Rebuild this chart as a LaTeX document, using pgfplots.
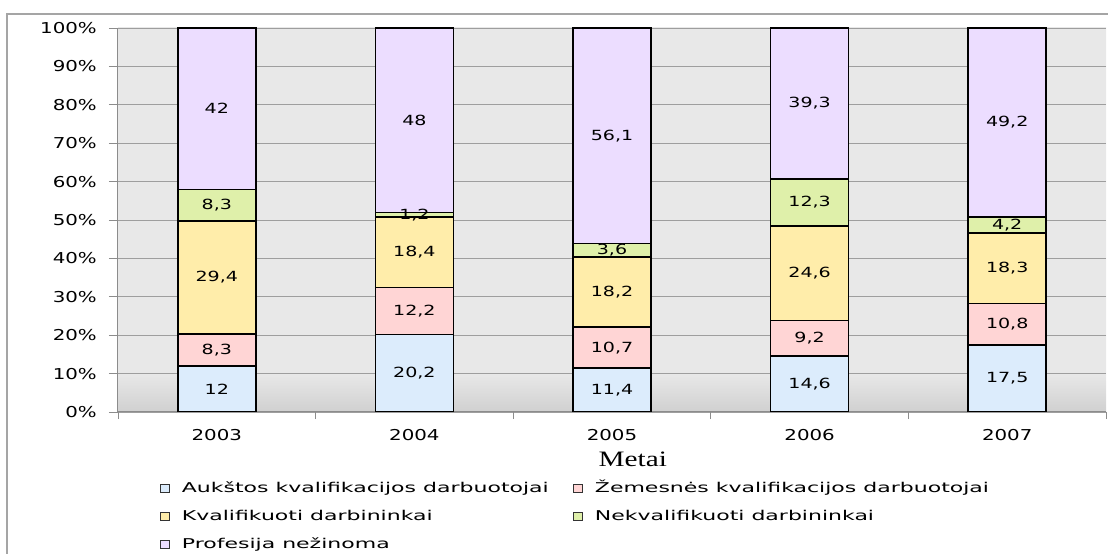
\documentclass[border=0pt]{standalone}
\usepackage{pgfplots}
\usepackage{pgfplotstable}
\pgfplotsset{compat=1.18}
\usepackage{fontspec}
\setmainfont{DejaVu Sans}
\newfontfamily\seriffont{Liberation Serif}
\usepackage{graphicx}

\definecolor{cA}{RGB}{220,236,252}
\definecolor{cB}{RGB}{255,213,213}
\definecolor{cC}{RGB}{255,237,170}
\definecolor{cD}{RGB}{223,240,170}
\definecolor{cE}{RGB}{236,221,255}
\definecolor{bglight}{RGB}{232,232,232}
\definecolor{bgdark}{RGB}{208,208,208}
\definecolor{gridgray}{RGB}{158,158,158}
\definecolor{axisgray}{RGB}{140,140,140}
\definecolor{framegray}{RGB}{165,165,165}

\pgfdeclareverticalshading{plotbg}{100bp}{color(0bp)=(bgdark); color(25bp)=(bgdark); color(30bp)=(bglight); color(100bp)=(bglight)}

\newcommand\sx[2]{\scalebox{#1}[1]{#2}}

\pgfplotstableread{
x A B C D E
0 12 8.3 29.4 8.3 42
1 20.2 12.2 18.4 1.2 48
2 11.4 10.7 18.2 3.6 56.1
3 14.6 9.2 24.6 12.3 39.3
4 17.5 10.8 18.3 4.2 49.2
}\data

\pgfplotsset{
  geom/.style={at={(118pt,142pt)}, anchor=south west,
    scale only axis, width=988pt, height=384pt,
    xmin=-0.5, xmax=4.5, ymin=0, ymax=100,
    /pgf/number format/assume math mode=true},
  lbl/.style={draw=none, mark=none, point meta=explicit,
    nodes near coords={\sx{1.36}{\pgfmathprintnumber[use comma]{\pgfplotspointmeta}}},
    every node near coord/.append style={anchor=center, font=\fontsize{14}{16}\selectfont, inner sep=0pt, text=black}},
  boxlegend/.style={legend image code/.code={\draw[##1, draw=black!80, line width=1.2pt] (0pt,0pt) rectangle (8.5pt,8.5pt);}},
}

\begin{document}
\begin{tikzpicture}
\path[use as bounding box] (0,0) rectangle (1108pt,554pt);
\begin{axis}[
  geom,
  ybar stacked, bar width=78pt,
  axis background/.style={shading=plotbg},
  axis x line*=bottom, axis y line*=left,
  axis line style={-, draw=axisgray, line width=1pt},
  xtick={0,1,2,3,4},
  xticklabels={\sx{1.32}{2003},\sx{1.32}{2004},\sx{1.32}{2005},\sx{1.32}{2006},\sx{1.32}{2007}},
  major x tick style={draw=none},
  minor xtick={-0.5,0.5,1.5,2.5,3.5,4.5},
  ytick={0,10,...,100},
  yticklabel={\sx{1.32}{\pgfmathprintnumber{\tick}\%}},
  ymajorgrids,
  grid style={draw=gridgray, line width=0.9pt},
  tick align=outside, major tick length=9pt, minor tick length=7pt,
  tick style={draw=axisgray, line width=0.9pt},
  ticklabel style={font=\fontsize{15}{18}\selectfont, inner sep=0pt},
  yticklabel style={anchor=east, xshift=-12pt},
  xticklabel style={anchor=north, yshift=-8pt},
  xlabel={\sx{1.33}{Metai}},
  xlabel style={font=\seriffont\fontsize{22}{24}\selectfont, at={(axis description cs:0.521,0)}, anchor=base, yshift=-55pt, inner sep=0pt},
  every axis plot/.append style={draw=black, line width=1.5pt},
  legend columns=2,
  legend cell align=left,
  legend style={at={(0.0425,-0.1836)}, anchor=north west, draw=none, fill=none, inner sep=0pt,
    font=\fontsize{13.5}{15}\selectfont,
    nodes={inner sep=0pt, text height=10pt, text depth=3pt, anchor=base west},
    row sep=15pt,
    /tikz/every odd column/.append style={column sep=12pt},
    /tikz/every even column/.append style={column sep=24.5pt}},
]
\addplot[fill=cA, boxlegend] table[x=x,y=A]{\data};
\addlegendentry{\sx{1.63}{Aukštos kvalifikacijos darbuotojai}}
\addplot[fill=cB, boxlegend] table[x=x,y=B]{\data};
\addlegendentry{\sx{1.63}{Žemesnės kvalifikacijos darbuotojai}}
\addplot[fill=cC, boxlegend] table[x=x,y=C]{\data};
\addlegendentry{\sx{1.63}{Kvalifikuoti darbininkai}}
\addplot[fill=cD, boxlegend] table[x=x,y=D]{\data};
\addlegendentry{\sx{1.63}{Nekvalifikuoti darbininkai}}
\addplot[fill=cE, boxlegend] table[x=x,y=E]{\data};
\addlegendentry{\sx{1.63}{Profesija nežinoma}}
\end{axis}
\begin{axis}[geom, hide axis]
\addplot[lbl] table[x=x, y expr={\thisrow{A}/2}, meta=A]{\data};
\addplot[lbl] table[x=x, y expr={\thisrow{A}+\thisrow{B}/2}, meta=B]{\data};
\addplot[lbl] table[x=x, y expr={\thisrow{A}+\thisrow{B}+\thisrow{C}/2}, meta=C]{\data};
\addplot[lbl] table[x=x, y expr={\thisrow{A}+\thisrow{B}+\thisrow{C}+\thisrow{D}/2}, meta=D]{\data};
\addplot[lbl] table[x=x, y expr={\thisrow{A}+\thisrow{B}+\thisrow{C}+\thisrow{D}+\thisrow{E}/2}, meta=E]{\data};
\end{axis}
\draw[framegray, line width=1.3pt] (7pt,0pt) -- (7pt,540pt) -- (1108pt,540pt);
\end{tikzpicture}
\end{document}
